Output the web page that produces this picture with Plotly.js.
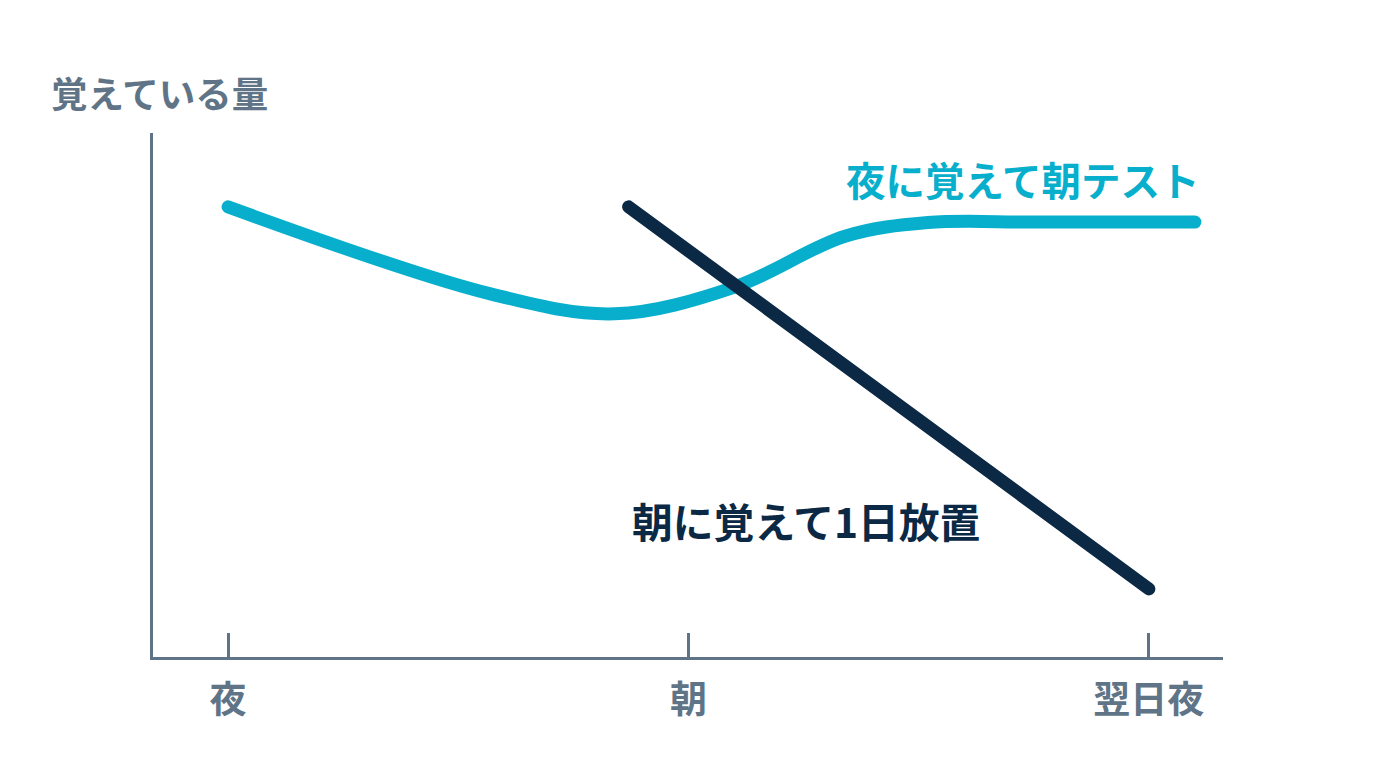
<!DOCTYPE html>
<html>
<head>
<meta charset="utf-8">
<script src="https://cdn.plot.ly/plotly-3.0.1.min.js"></script>
<style>
html,body{margin:0;padding:0;background:#fff;}
#chart{width:1376px;height:768px;}
.scatterlayer .js-line{stroke-linecap:round;stroke-linejoin:round;}
</style>
</head>
<body>
<div id="chart"></div>
<script>
// Data
const tickPositions = [0, 1, 2];
const tickLabels = ["夜", "朝", "翌日夜"];
const yTitle = "覚えている量";

const nightX = [0, 0.57, 0.84, 1.10, 1.34, 1.52, 1.75, 2.10];
const nightY = [85.9, 69.3, 65.5, 70.6, 80.3, 82.9, 83.0, 83.0];
const nightLabel = "夜に覚えて朝テスト";

const morningX = [0.87, 2.0];
const morningY = [85.9, 13.0];
const morningLabel = "朝に覚えて1日放置";

const axisColor = "#5f7486";
const cyan = "#07afcc";
const navy = "#0b2944";
const font = "Noto Sans CJK JP";

const traces = [
  {x: nightX, y: nightY, mode: "lines", line: {color: cyan, width: 13, shape: "spline", smoothing: 1.0}, hoverinfo: "skip"},
  {x: morningX, y: morningY, mode: "lines", line: {color: navy, width: 13}, hoverinfo: "skip"}
];

const layout = {
  width: 1376, height: 768,
  margin: {l: 153, r: 153, t: 133, b: 111},
  paper_bgcolor: "#fff", plot_bgcolor: "#fff",
  showlegend: false,
  font: {family: font, color: axisColor},
  xaxis: {
    range: [-0.163, 2.161], fixedrange: true,
    showgrid: false, zeroline: false,
    showline: true, linecolor: axisColor, linewidth: 3,
    ticks: "inside", ticklen: 24, tickwidth: 3, tickcolor: axisColor,
    tickvals: tickPositions, ticktext: tickLabels,
    tickfont: {family: font, size: 37, color: axisColor, weight: "bold"},
    ticklabelstandoff: 9
  },
  yaxis: {
    range: [0, 100], fixedrange: true,
    showgrid: false, zeroline: false,
    showline: true, linecolor: axisColor, linewidth: 3,
    showticklabels: false, ticks: ""
  },
  annotations: [
    {xref: "paper", yref: "paper", x: -0.0972, y: 1.078, xanchor: "left", yanchor: "middle",
     text: yTitle, showarrow: false, font: {family: font, size: 36.5, color: axisColor, weight: "bold"}},
    {xref: "x", yref: "y", x: 2.115, y: 91.4, xanchor: "right", yanchor: "middle",
     text: nightLabel, showarrow: false, font: {family: font, size: 39.5, color: cyan, weight: "bold"}},
    {xref: "x", yref: "y", x: 0.872, y: 26.0, xanchor: "left", yanchor: "middle",
     text: morningLabel, showarrow: false, font: {family: font, size: 40.8, color: navy, weight: "bold"}}
  ]
};

Plotly.newPlot("chart", traces, layout, {displayModeBar: false, staticPlot: true});
</script>
</body>
</html>
